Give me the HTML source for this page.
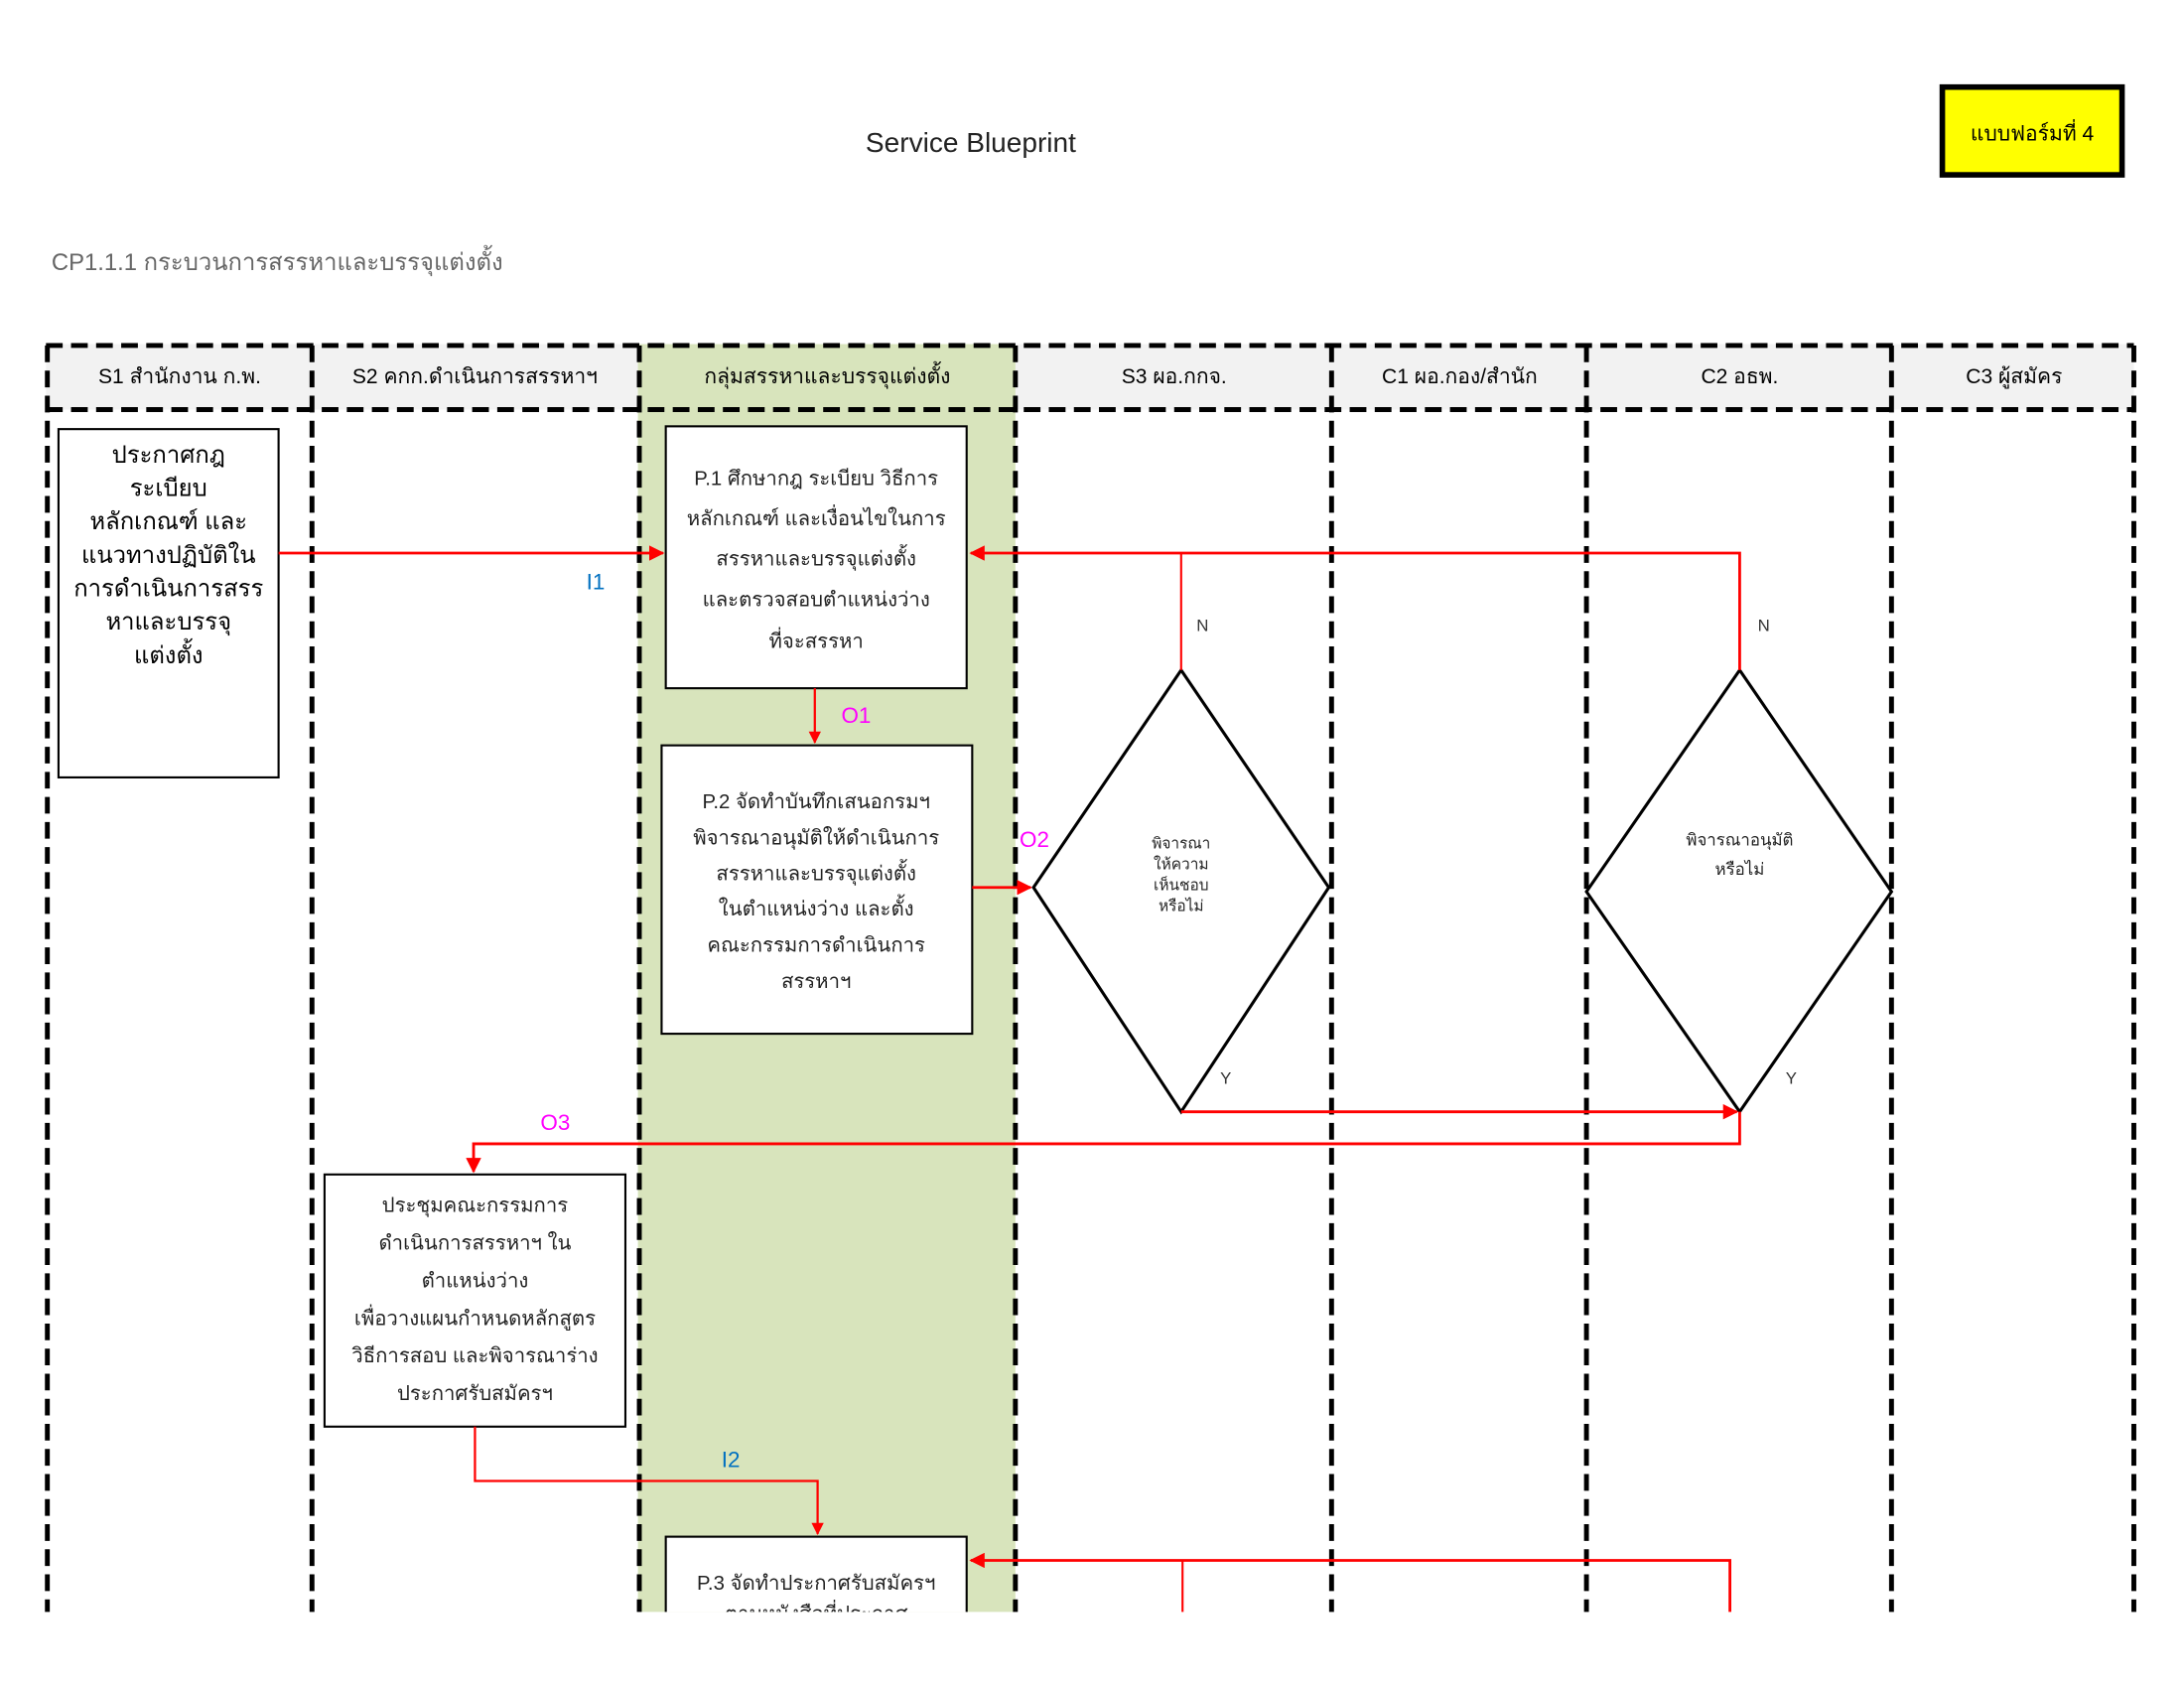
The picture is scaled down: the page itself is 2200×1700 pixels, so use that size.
<!DOCTYPE html>
<html><head><meta charset="utf-8"><style>
html,body{margin:0;padding:0;background:#fff}
svg{display:block}
text{font-family:"Liberation Sans","DejaVu Sans",sans-serif}
</style></head><body>
<svg width="2200" height="1700" viewBox="0 0 1568 1211.6" preserveAspectRatio="none" xmlns="http://www.w3.org/2000/svg">
<defs>
<marker id="ar" viewBox="0 0 10 10" refX="9" refY="5" markerWidth="5.5" markerHeight="5.5" orient="auto"><path d="M0,0 L10,5 L0,10 z" fill="#ff0000"/></marker>
<clipPath id="cp"><rect x="0" y="0" width="1568" height="1157"/></clipPath>
</defs>
<text x="697" y="109" font-size="20" text-anchor="middle" fill="#222">Service Blueprint</text>
<rect x="1394.5" y="62.5" width="129" height="63" fill="#ffff00" stroke="#000" stroke-width="4"/>
<text x="1459" y="101" font-size="15" text-anchor="middle" fill="#000">แบบฟอร์มที่ 4</text>
<text x="37" y="194" font-size="17" fill="#666">CP1.1.1 กระบวนการสรรหาและบรรจุแต่งตั้ง</text>
<g clip-path="url(#cp)">
<rect x="33" y="247" width="1499" height="47" fill="#f2f2f2"/>
<rect x="458" y="247" width="271" height="920" fill="#d8e4bc"/>
<g stroke="#000" stroke-width="3.5" stroke-dasharray="12,6" fill="none">
<line x1="33" y1="248" x2="1532" y2="248"/>
<line x1="33" y1="294" x2="1532" y2="294"/>
<line x1="34" y1="248" x2="34" y2="1160"/>
<line x1="224" y1="248" x2="224" y2="1160"/>
<line x1="459" y1="248" x2="459" y2="1160"/>
<line x1="729" y1="248" x2="729" y2="1160"/>
<line x1="956" y1="248" x2="956" y2="1160"/>
<line x1="1139" y1="248" x2="1139" y2="1160"/>
<line x1="1358" y1="248" x2="1358" y2="1160"/>
<line x1="1532" y1="248" x2="1532" y2="1160"/>
</g>
<g font-size="15" text-anchor="middle" fill="#000">
<text x="129" y="275">S1 สำนักงาน ก.พ.</text>
<text x="341" y="275">S2 คกก.ดำเนินการสรรหาฯ</text>
<text x="594" y="275">กลุ่มสรรหาและบรรจุแต่งตั้ง</text>
<text x="843" y="275">S3 ผอ.กกจ.</text>
<text x="1048" y="275">C1 ผอ.กอง/สำนัก</text>
<text x="1249" y="275">C2 อธพ.</text>
<text x="1446" y="275">C3 ผู้สมัคร</text>
</g>
<g fill="#fff" stroke="#000" stroke-width="1.5">
<rect x="42" y="308" width="158" height="250"/>
<rect x="478" y="306" width="216" height="188"/>
<rect x="475" y="535" width="223" height="207"/>
<rect x="233" y="843" width="216" height="181"/>
<rect x="478" y="1103" width="216" height="80"/>
<polygon points="848,481 954,637 848,798 742,637" stroke-width="2.2"/>
<polygon points="1249,481 1358,640 1249,798 1139,640" stroke-width="2.2"/>
</g>
<g font-size="17" text-anchor="middle" fill="#000">
<text x="121" y="332">ประกาศกฎ</text>
<text x="121" y="356">ระเบียบ</text>
<text x="121" y="380">หลักเกณฑ์ และ</text>
<text x="121" y="404">แนวทางปฏิบัติใน</text>
<text x="121" y="428">การดำเนินการสรร</text>
<text x="121" y="452">หาและบรรจุ</text>
<text x="121" y="476">แต่งตั้ง</text>
</g>
<g font-size="14.5" text-anchor="middle" fill="#222">
<text x="586" y="348">P.1 ศึกษากฎ ระเบียบ วิธีการ</text>
<text x="586" y="377">หลักเกณฑ์ และเงื่อนไขในการ</text>
<text x="586" y="406">สรรหาและบรรจุแต่งตั้ง</text>
<text x="586" y="435">และตรวจสอบตำแหน่งว่าง</text>
<text x="586" y="465">ที่จะสรรหา</text>
<text x="586" y="580">P.2 จัดทำบันทึกเสนอกรมฯ</text>
<text x="586" y="606">พิจารณาอนุมัติให้ดำเนินการ</text>
<text x="586" y="632">สรรหาและบรรจุแต่งตั้ง</text>
<text x="586" y="657">ในตำแหน่งว่าง และตั้ง</text>
<text x="586" y="683">คณะกรรมการดำเนินการ</text>
<text x="586" y="709">สรรหาฯ</text>
<text x="341" y="870">ประชุมคณะกรรมการ</text>
<text x="341" y="897">ดำเนินการสรรหาฯ ใน</text>
<text x="341" y="924">ตำแหน่งว่าง</text>
<text x="341" y="951">เพื่อวางแผนกำหนดหลักสูตร</text>
<text x="341" y="978">วิธีการสอบ และพิจารณาร่าง</text>
<text x="341" y="1005">ประกาศรับสมัครฯ</text>
<text x="586" y="1141">P.3 จัดทำประกาศรับสมัครฯ</text>
<text x="586" y="1163">ตามหนังสือที่ประกาศ</text>
</g>
<g font-size="11" text-anchor="middle" fill="#222">
<text x="848" y="609">พิจารณา</text>
<text x="848" y="624">ให้ความ</text>
<text x="848" y="639">เห็นชอบ</text>
<text x="848" y="654">หรือไม่</text>
<text x="1249" y="607" font-size="12">พิจารณาอนุมัติ</text>
<text x="1249" y="628" font-size="12">หรือไม่</text>
</g>
<g stroke="#ff0000" fill="none" stroke-width="2">
<path d="M200,397 H476" marker-end="url(#ar)"/>
<path d="M1249,481 V397 H697" marker-end="url(#ar)"/>
<path d="M848,481 V397" stroke-width="1.5"/>
<path d="M585,494 V533" marker-end="url(#ar)" stroke-width="1.6"/>
<path d="M698,637 H740" marker-end="url(#ar)"/>
<path d="M848,798 H1247" marker-end="url(#ar)"/>
<path d="M1249,798 V821 H340 V841" marker-end="url(#ar)"/>
<path d="M341,1024 V1063 H587 V1101" marker-end="url(#ar)" stroke-width="1.6"/>
<path d="M1242,1180 V1120 H697" marker-end="url(#ar)"/>
<path d="M849,1120 V1180" stroke-width="1.5"/>
</g>
<g font-size="16">
<text x="421" y="423" fill="#0070c0">I1</text>
<text x="604" y="519" fill="#ff00ff">O1</text>
<text x="732" y="608" fill="#ff00ff">O2</text>
<text x="388" y="811" fill="#ff00ff">O3</text>
<text x="518" y="1053" fill="#0070c0">I2</text>
</g>
<g font-size="12" fill="#333">
<text x="859" y="453">N</text>
<text x="1262" y="453">N</text>
<text x="876" y="778">Y</text>
<text x="1282" y="778">Y</text>
</g>
</g>
</svg>
</body></html>
